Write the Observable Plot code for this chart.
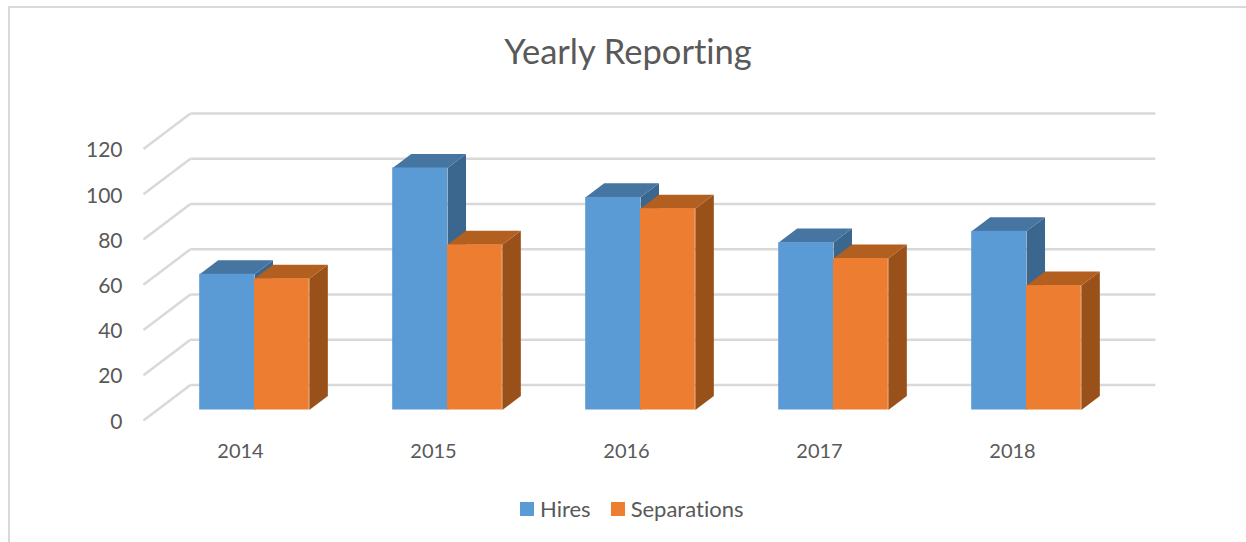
<!DOCTYPE html>
<html>
<head>
<meta charset="utf-8">
<script src="https://cdn.jsdelivr.net/npm/d3@7"></script>
<script src="https://cdn.jsdelivr.net/npm/@observablehq/plot@0.6"></script>
<style>
  html, body { margin: 0; padding: 0; background: #fff; overflow: hidden; }
  body { width: 1246px; height: 542px; position: relative; font-family: Lato, "Open Sans", sans-serif; color: #595959; font-variant-ligatures: none; }
  #frame { position: absolute; left: 8px; top: 6px; right: 0; bottom: 0; border-top: 2px solid #d9d9d9; border-left: 2px solid #d9d9d9; }
  #title { position: relative; height: 90px; text-align: center; font-size: 34.5px; line-height: 102px; padding-left: 10px; box-sizing: border-box; }
  #chart { position: relative; height: 390px; }
  #chart svg { display: block; }
  #legend { position: relative; display: flex; gap: 6px; align-items: center; padding-left: 520px; padding-top: 18px; font-size: 22px; line-height: 22px; }
  #legend i { display: inline-block; width: 14px; height: 14px; }
  #legend span { margin-right: 14px; }
</style>
</head>
<body>
<div id="frame"></div>
<div id="title">Yearly Reporting</div>
<div id="chart"></div>
<div id="legend"></div>
<script>
const years = ["2014", "2015", "2016", "2017", "2018"];
const hires = [60, 107, 94, 74, 79];
const separations = [58, 73, 89, 67, 55];
const yTicks = [0, 20, 40, 60, 80, 100, 120];
const seriesNames = ["Hires", "Separations"];
const seriesColors = ["#5B9BD5", "#ED7D31"];
const topColors = ["#4675A1", "#B25F20"];
const sideColors = ["#3B668E", "#9A5119"];

// Oblique projection offsets, in data units of the two scales
const barW = 0.284, barDX = 0.096, barDY = 6.2;
const wallX0 = -0.332, wallX1 = 4.668, wallLift = 11.05, diagDX = 0.2435, diagDY = 15.7;

const indexed = (vals) => vals.map((v, i) => ({i, v}));

function topFace(vals, x0) {
  return indexed(vals).flatMap(({i, v}) => [
    {id: i, x: i + x0, y: v},
    {id: i, x: i + x0 + barW, y: v},
    {id: i, x: i + x0 + barW + barDX, y: v + barDY},
    {id: i, x: i + x0 + barDX, y: v + barDY}
  ]);
}
function sideFace(vals, x0) {
  return indexed(vals).flatMap(({i, v}) => [
    {id: i, x: i + x0 + barW, y: 0},
    {id: i, x: i + x0 + barW + barDX, y: barDY},
    {id: i, x: i + x0 + barW + barDX, y: v + barDY},
    {id: i, x: i + x0 + barW, y: v}
  ]);
}
function seriesMarks(vals, k) {
  const x0 = k === 0 ? -barW : 0;
  const face = {x: "x", y: "y", z: "id", stroke: "none"};
  return [
    Plot.line(sideFace(vals, x0), {...face, fill: sideColors[k]}),
    Plot.line(topFace(vals, x0), {...face, fill: topColors[k]}),
    Plot.rect(indexed(vals), {
      x1: (d) => d.i + x0, x2: (d) => d.i + x0 + barW,
      y1: 0, y2: "v", fill: seriesColors[k]
    })
  ];
}

const plot = Plot.plot({
  width: 1246,
  height: 390,
  marginTop: 0, marginRight: 0, marginLeft: 122, marginBottom: 40,
  style: {background: "transparent", overflow: "visible", fontFamily: "Lato, 'Open Sans', sans-serif", color: "#595959"},
  x: {type: "linear", domain: [0, 4], range: [254, 1026]},
  y: {type: "linear", domain: [0, 120], range: [319.5, 48.06]},
  marks: [
    // back wall gridlines
    Plot.link(yTicks, {
      x1: wallX0, x2: wallX1,
      y1: (t) => t + wallLift, y2: (t) => t + wallLift,
      stroke: "#d9d9d9", strokeWidth: 2.5
    }),
    // side wall gridlines
    Plot.link(yTicks, {
      x1: wallX0 - diagDX, x2: wallX0,
      y1: (t) => t + wallLift - diagDY, y2: (t) => t + wallLift,
      stroke: "#d9d9d9", strokeWidth: 2.5
    }),
    ...seriesMarks(hires, 0),
    ...seriesMarks(separations, 1),
    Plot.axisY({
      ticks: yTicks, tickSize: 0, tickPadding: 0, dy: 12, label: null,
      fontSize: 21, fill: "#595959"
    }),
    Plot.axisX({
      ticks: years.map((_, i) => i), tickFormat: (i) => years[i],
      tickSize: 0, tickPadding: 3, dx: -14, label: null,
      fontSize: 20, fill: "#595959"
    })
  ]
});
document.getElementById("chart").appendChild(plot);

const legend = document.getElementById("legend");
seriesNames.forEach((name, k) => {
  const sw = document.createElement("i");
  sw.style.background = seriesColors[k];
  const lb = document.createElement("span");
  lb.textContent = name;
  legend.append(sw, lb);
});
</script>
</body>
</html>
